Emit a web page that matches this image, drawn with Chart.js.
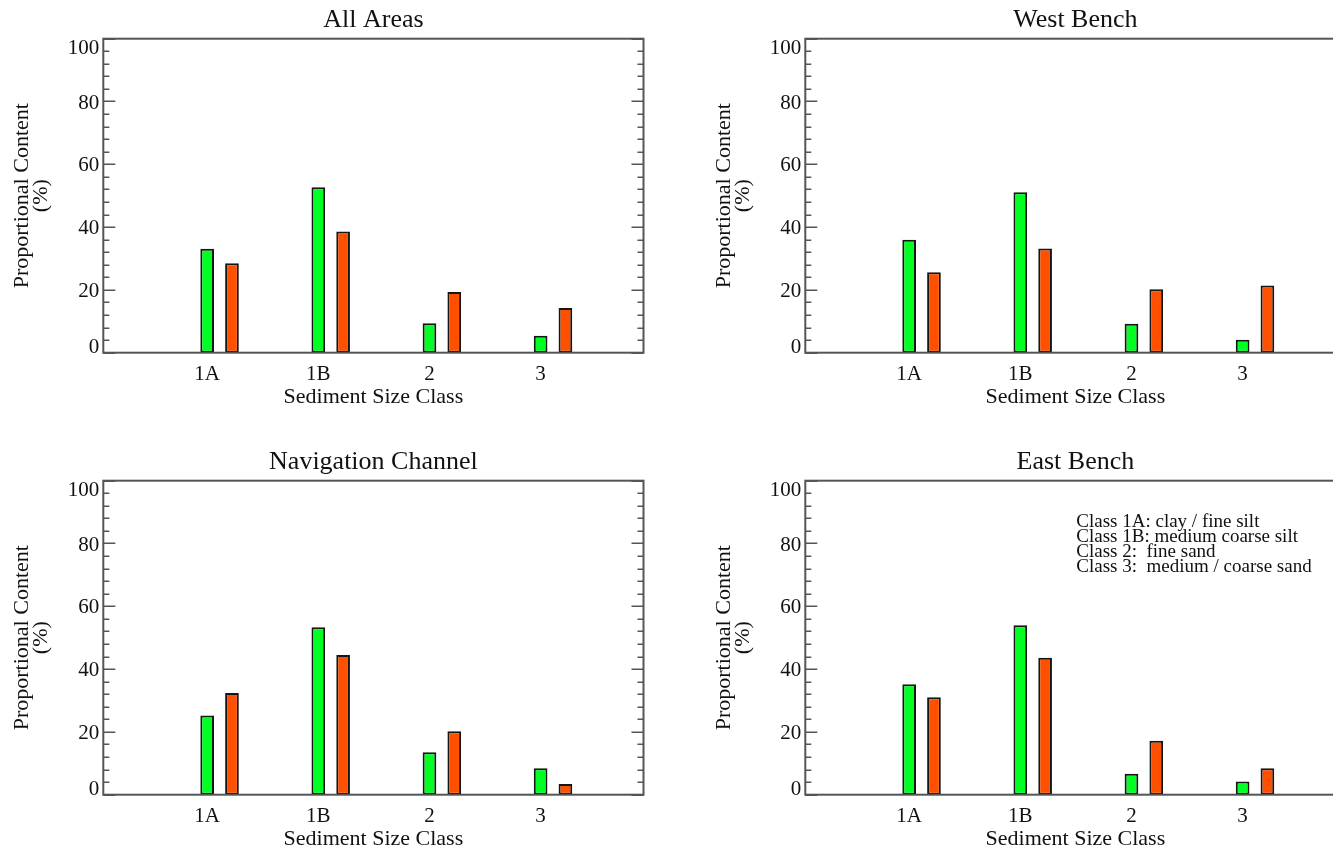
<!DOCTYPE html>
<html>
<head>
<meta charset="utf-8">
<title>Sediment Size Class Distribution</title>
<script src="https://cdn.jsdelivr.net/npm/chart.js@4/dist/chart.umd.min.js"></script>
<style>
  html, body { margin: 0; padding: 0; background: #ffffff; width: 1333px; height: 850px; overflow: hidden; }
  canvas.panel { position: absolute; }
</style>
</head>
<body>
<canvas id="p0" class="panel" style="left:0px;top:0px"></canvas>
<canvas id="p1" class="panel" style="left:702.4px;top:0px"></canvas>
<canvas id="p2" class="panel" style="left:0px;top:442px"></canvas>
<canvas id="p3" class="panel" style="left:702.4px;top:442px"></canvas>
<script>
// Sediment size classes on the horizontal axis
const categories = ['1A', '1B', '2', '3'];

// Panel titles
const panelTitles = ['All Areas', 'West Bench', 'Navigation Channel', 'East Bench'];

// Proportional content (%) per size class, two sample sets per area
const allAreasSetA = [33.1, 52.7, 9.4, 5.4];
const allAreasSetB = [28.5, 38.6, 19.3, 14.2];
const westBenchSetA = [36.0, 51.1, 9.2, 4.1];
const westBenchSetB = [25.6, 33.2, 20.2, 21.4];
const navChannelSetA = [25.2, 53.3, 13.5, 8.4];
const navChannelSetB = [32.4, 44.5, 20.2, 3.4];
const eastBenchSetA = [35.2, 54.0, 6.7, 4.2];
const eastBenchSetB = [31.0, 43.6, 17.2, 8.4];

// Value axis labels
const yTickLabels = ['0', '20', '40', '60', '80', '100'];

// Size class key shown in the East Bench panel
const classKey = [
  'Class 1A: clay / fine silt',
  'Class 1B: medium coarse silt',
  'Class 2:  fine sand',
  'Class 3:  medium / coarse sand'
];

const xAxisTitle = 'Sediment Size Class';
const yAxisTitleLines = ['Proportional Content', '(%)'];

const panelSeries = [
  [allAreasSetA, allAreasSetB],
  [westBenchSetA, westBenchSetB],
  [navChannelSetA, navChannelSetB],
  [eastBenchSetA, eastBenchSetB]
];

const COLOR_A = '#00ff22';
const COLOR_B = '#ff5000';
const FRAME = '#555555';
const TEXT = '#111111';
const SERIF = '"Liberation Serif", "Times New Roman", serif';

const CANVAS_W = 700, CANVAS_H = 425;
const FRAME_LEFT = 103.3, FRAME_RIGHT = 643.5, FRAME_TOP = 38.7, FRAME_BOTTOM = 352.7;
const MINOR_STEP = 4, MAJOR_STEP = 20;

// Draws the boxed frame, inward ticks, all labels and titles
const panelDecor = {
  id: 'panelDecor',
  afterDatasetsDraw(chart, args, opts) {
    const { ctx, chartArea: a, scales: { x, y } } = chart;
    ctx.save();

    // frame
    ctx.strokeStyle = FRAME;
    ctx.lineWidth = 2;
    ctx.strokeRect(a.left, a.top, a.right - a.left, a.bottom - a.top);

    // inward tick marks on both vertical sides
    ctx.lineWidth = 1.6;
    ctx.beginPath();
    for (let v = y.min; v <= y.max; v += MINOR_STEP) {
      const py = Math.round(y.getPixelForValue(v)) + 0.25;
      const len = (v % MAJOR_STEP === 0) ? 12 : 6;
      ctx.moveTo(a.left, py); ctx.lineTo(a.left + len, py);
      ctx.moveTo(a.right, py); ctx.lineTo(a.right - len, py);
    }
    ctx.stroke();

    // value axis labels, kept inside the frame height
    ctx.fillStyle = TEXT;
    ctx.font = '21px ' + SERIF;
    ctx.textAlign = 'right';
    ctx.textBaseline = 'alphabetic';
    yTickLabels.forEach(t => {
      let cy = y.getPixelForValue(Number(t));
      cy = Math.min(Math.max(cy, a.top + 8), a.bottom - 6.3);
      ctx.fillText(t, a.left - 4, cy + 7);
    });

    // class labels under the first bar of each group
    ctx.textAlign = 'center';
    const meta = chart.getDatasetMeta(0);
    categories.forEach((c, i) => {
      ctx.fillText(c, meta.data[i].x, a.bottom + 27.5);
    });

    // axis titles
    ctx.font = '22px ' + SERIF;
    ctx.fillText(xAxisTitle, (a.left + a.right) / 2, a.bottom + 50.5);

    ctx.save();
    ctx.translate(a.left, (a.top + a.bottom) / 2);
    ctx.rotate(-Math.PI / 2);
    ctx.fillText(yAxisTitleLines[0], 0, -75.7);
    ctx.fillText(yAxisTitleLines[1], 0, -56);
    ctx.restore();

    // panel title
    ctx.font = '26px ' + SERIF;
    ctx.fillText(opts.title, (a.left + a.right) / 2, a.top - 12);

    // optional class key
    if (opts.key) {
      ctx.font = '19px ' + SERIF;
      ctx.textAlign = 'left';
      opts.key.forEach((line, i) => {
        ctx.fillText(line, a.left + 271, a.top + 46.3 + 15 * i);
      });
    }
    ctx.restore();
  }
};

function drawPanel(idx) {
  const canvas = document.getElementById('p' + idx);
  canvas.width = CANVAS_W;
  canvas.height = CANVAS_H;
  const [setA, setB] = panelSeries[idx];
  const toPoints = arr => arr.map((v, i) => ({ x: i, y: v }));

  new Chart(canvas, {
    type: 'bar',
    data: {
      datasets: [
        { label: 'Set A', data: toPoints(setA), backgroundColor: COLOR_A },
        { label: 'Set B', data: toPoints(setB), backgroundColor: COLOR_B }
      ]
    },
    options: {
      responsive: false,
      animation: false,
      events: [],
      layout: {
        padding: {
          left: FRAME_LEFT,
          right: CANVAS_W - FRAME_RIGHT,
          top: FRAME_TOP,
          bottom: CANVAS_H - FRAME_BOTTOM
        }
      },
      datasets: {
        bar: {
          borderColor: '#151515',
          borderWidth: 2,
          borderSkipped: false,
          categoryPercentage: 0.4462,
          barPercentage: 0.552,
          grouped: true
        }
      },
      scales: {
        x: {
          type: 'linear',
          display: false,
          offset: false,
          min: -1.046,
          max: 3.814,
          afterBuildTicks: s => { s.ticks = categories.map((c, i) => ({ value: i })); }
        },
        y: {
          type: 'linear',
          display: false,
          min: 0,
          max: 100
        }
      },
      plugins: {
        legend: { display: false },
        tooltip: { enabled: false },
        panelDecor: { title: panelTitles[idx], key: idx === 3 ? classKey : null }
      }
    },
    plugins: [panelDecor]
  });
}

[0, 1, 2, 3].forEach(drawPanel);
</script>
</body>
</html>
